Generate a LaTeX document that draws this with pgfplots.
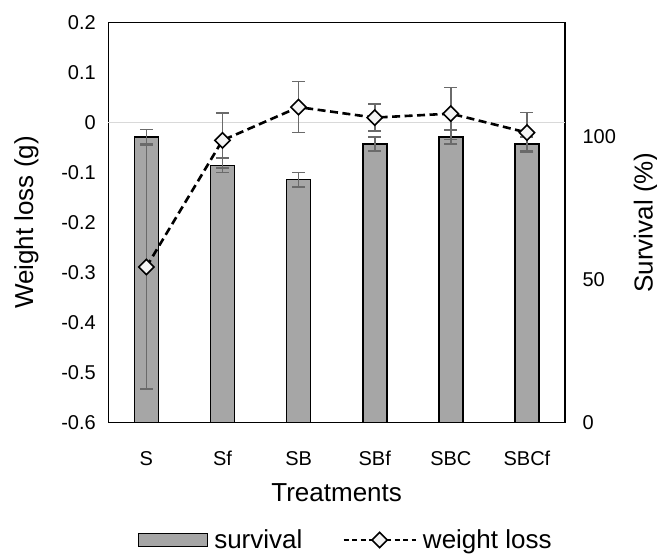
\documentclass[border=0pt]{standalone}
\usepackage{fontspec}
\setmainfont{Liberation Sans}
\usepackage{pgfplots}
\pgfplotsset{compat=1.18}
\definecolor{barfill}{HTML}{A6A6A6}
\definecolor{errcol}{HTML}{6A6A6A}
\definecolor{zeroline}{HTML}{D9D9D9}
\definecolor{markfill}{HTML}{F4F4F4}
\pgfplotsset{
  barlegend/.style={legend image code/.code={\draw[##1] (0bp,-6.5bp) rectangle (69bp,6.5bp); \path (73bp,0bp);}},
  linelegend/.style={legend image code/.code={\draw[##1, dash pattern=on 5bp off 3.5bp, mark repeat=2, mark phase=2] plot coordinates {(0bp,0bp) (36bp,0bp) (72bp,0bp)}; \path (76bp,0bp);}},
  common/.style={
    scale only axis, width=456.7bp, height=399.6bp,
    xmin=-0.5, xmax=5.5,
    major tick length=0pt,
    tick label style={font=\fontsize{20bp}{24bp}\selectfont},
    label style={font=\fontsize{26bp}{30bp}\selectfont},
    axis line style={line width=1.3bp, black},
    clip=false,
  },
}
\begin{document}
\begin{tikzpicture}
% survival (bars), right axis
\begin{axis}[common, name=ax,
  ymin=0, ymax=140, ytick={0,50,100}, yticklabels={0,50,100},
  yticklabel pos=right,
  yticklabel style={anchor=west, xshift=14bp},
  ylabel={Survival (\%)},
  ylabel style={at={(axis description cs:1,0.5)}, anchor=center, yshift=-81bp},
  xtick={0,1,2,3,4,5}, xticklabels={S,Sf,SB,SBf,SBC,SBCf},
  xticklabel style={anchor=base, yshift=-43bp},
  xlabel={Treatments},
  xlabel style={at={(axis description cs:0.5,0)}, anchor=center, yshift=-70.7bp},
]
\addplot[ybar, bar width=24bp, fill=barfill, draw=black, line width=1.6bp,
  error bars/.cd, y dir=both, y explicit,
  error bar style={errcol, line width=1.6bp},
  error mark options={errcol, rotate=90, mark size=6.5bp, line width=1.6bp}]
coordinates {
  (0,100) +- (0,2.6)
  (1,90) +- (0,2.5)
  (2,85) +- (0,2.5)
  (3,97.5) +- (0,2.5)
  (4,100) +- (0,2.5)
  (5,97.5) +- (0,2.5)
};
\end{axis}
% weight loss (line), left axis
\begin{axis}[common,
  ymin=-0.6, ymax=0.2,
  ytick={-0.6,-0.5,-0.4,-0.3,-0.2,-0.1,0,0.1,0.2},
  yticklabels={-0.6,-0.5,-0.4,-0.3,-0.2,-0.1,0,0.1,0.2},
  yticklabel style={anchor=east, xshift=-9bp},
  hide x axis,
  axis y line*=left,
  y axis line style={-},
  extra y ticks={0}, extra y tick labels={},
  extra y tick style={ymajorgrids=true, major grid style={zeroline, line width=1.3bp}},
  ylabel={Weight loss (g)},
  ylabel style={at={(axis description cs:0,0.5)}, anchor=center, yshift=82bp},
  legend columns=2,
  legend style={draw=none, fill=none, at={(0.52,-0.2945)}, anchor=center,
    font=\fontsize{26bp}{30bp}\selectfont,
    /tikz/every even column/.append style={column sep=38bp}},
]
\addlegendimage{fill=barfill, draw=black, line width=1.3bp, barlegend}
\addlegendentry{survival}
\addplot[black, line width=2.6bp, dash pattern=on 8bp off 4.5bp,
  mark=square*, mark size=5.4bp,
  mark options={fill=markfill, solid, rotate=45, line width=1.6bp},
  linelegend,
  error bars/.cd, y dir=both, y explicit,
  error bar style={errcol, line width=1.6bp, solid},
  error mark options={errcol, rotate=90, mark size=6.5bp, line width=1.6bp, solid}]
coordinates {
  (0,-0.289) +- (0,0.244)
  (1,-0.0355) +- (0,0.055)
  (2,0.031) +- (0,0.051)
  (3,0.010) +- (0,0.027)
  (4,0.018) +- (0,0.052)
  (5,-0.020) +- (0,0.040)
};
\addlegendentry{weight loss}
\end{axis}
\pgfresetboundingbox
\path[use as bounding box] ([shift={(-108.3bp,-131.7bp)}]ax.south west) rectangle ([shift={(92bp,22.7bp)}]ax.north east);
\end{tikzpicture}
\end{document}
